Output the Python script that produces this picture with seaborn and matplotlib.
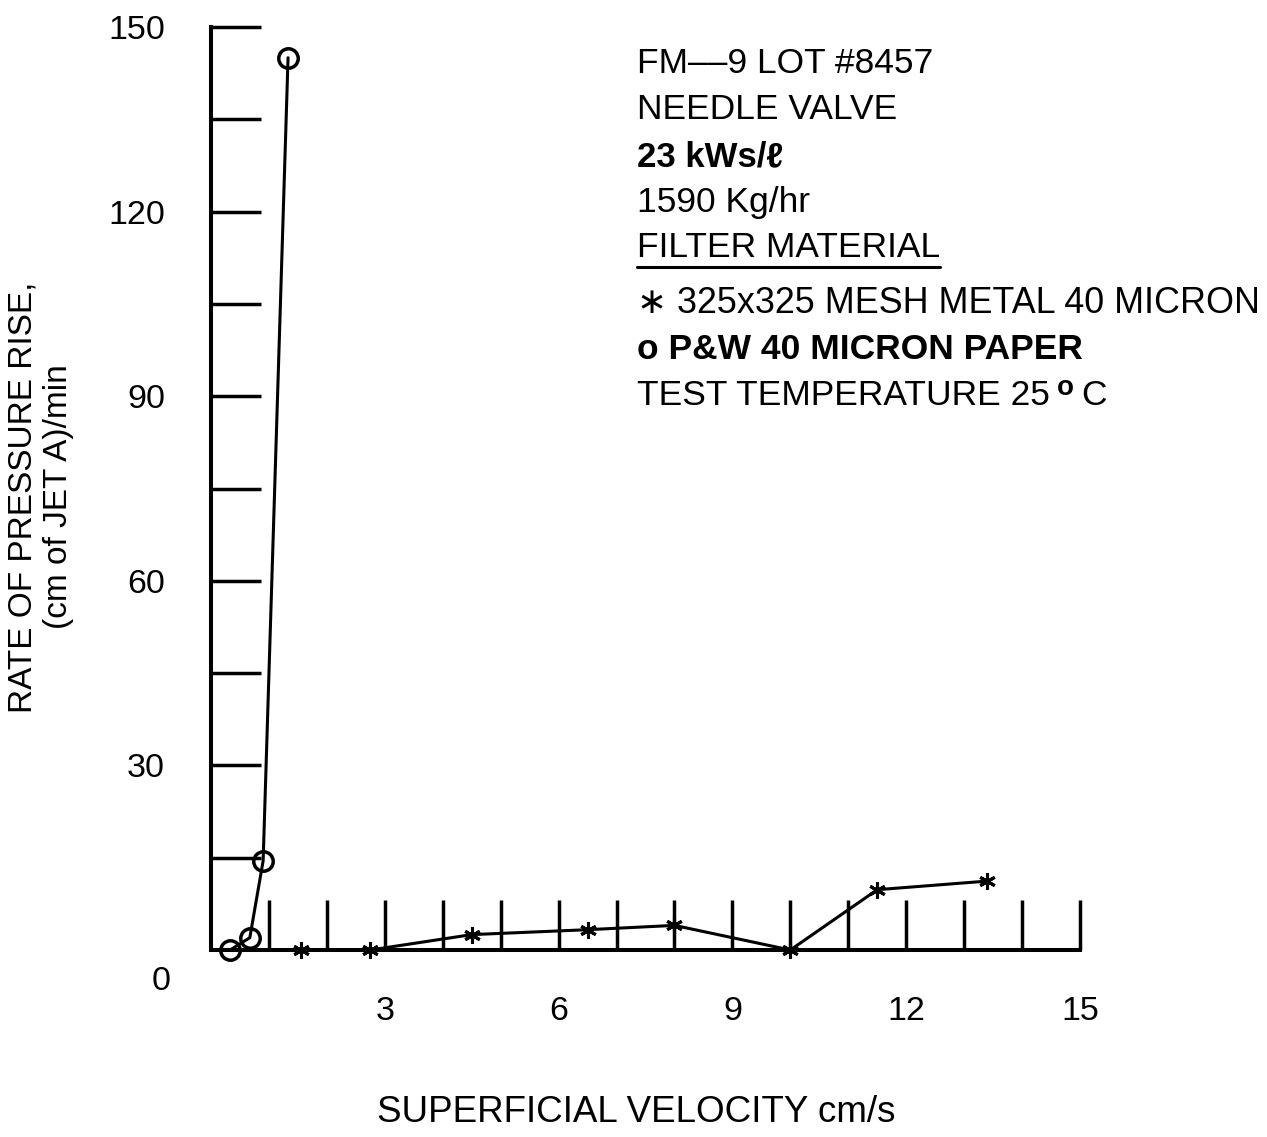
import matplotlib
matplotlib.use("Agg")
import matplotlib.pyplot as plt
from matplotlib.lines import Line2D
from matplotlib.ticker import FixedLocator, NullFormatter
import seaborn as sns
import pandas as pd

# Filter test data: superficial velocity (cm/s) vs. rate of pressure rise
paper_velocity = [0.33, 0.67, 0.90, 1.33]
paper_rate = [0.0, 2.0, 14.5, 145.0]

mesh_velocity = [1.55, 2.75, 4.5, 6.5, 8.0, 10.0, 11.5, 13.4]
mesh_rate = [0.0, 0.0, 2.5, 3.3, 4.0, 0.0, 9.8, 11.2]

x_tick_labels = [3, 6, 9, 12, 15]
y_tick_labels = [30, 60, 90, 120, 150]

info_lines = [
    "FM\u2013\u20139 LOT #8457",
    "NEEDLE VALVE",
    "23 kWs/\u2113",
    "1590 Kg/hr",
    "FILTER MATERIAL",
    "\u2217 325x325 MESH METAL 40 MICRON",
    "o P&W 40 MICRON PAPER",
    "TEST TEMPERATURE 25",
]

sns.set_style("white")
FAM = ["Liberation Sans", "DejaVu Sans"]
plt.rcParams["font.family"] = FAM
for key in ("text.color", "axes.labelcolor", "xtick.color", "ytick.color",
            "xtick.labelcolor", "ytick.labelcolor"):
    plt.rcParams[key] = "black"

W, H = 1267, 1137
fig = plt.figure(figsize=(W / 100, H / 100), dpi=100)


def fx(px):
    return px / W


def fy(py):
    return 1 - py / H


ax = fig.add_axes([fx(211), fy(950), (1080 - 211) / W, (950 - 27) / H])

paper = pd.DataFrame({"v": paper_velocity, "r": paper_rate})
mesh = pd.DataFrame({"v": mesh_velocity, "r": mesh_rate})

sns.lineplot(data=paper, x="v", y="r", ax=ax, color="black", lw=2.2,
             marker="o", markersize=14, markerfacecolor="none",
             markeredgecolor="black", markeredgewidth=2.5,
             sort=False, estimator=None, clip_on=False, zorder=4)
sns.lineplot(data=mesh, x="v", y="r", ax=ax, color="black", lw=2.2,
             marker=(6, 2, 0), markersize=12, markeredgecolor="black",
             markeredgewidth=2.2, sort=False, estimator=None,
             clip_on=False, zorder=4)

ax.set_xlim(0, 15)
ax.set_ylim(0, 150)

for side in ("top", "right"):
    ax.spines[side].set_visible(False)
for side in ("left", "bottom"):
    ax.spines[side].set_linewidth(2.9)
    ax.spines[side].set_color("black")
    ax.spines[side].set_capstyle("projecting")

# x axis: inward ticks every unit, labels every 3
ax.xaxis.set_major_locator(FixedLocator(x_tick_labels))
ax.xaxis.set_minor_locator(FixedLocator([1, 2, 4, 5, 7, 8, 10, 11, 13, 14]))
ax.set_xticklabels([str(v) for v in x_tick_labels])
# y axis: inward ticks every 15, labels every 30
ax.yaxis.set_major_locator(FixedLocator(y_tick_labels))
ax.yaxis.set_minor_locator(FixedLocator([15, 45, 75, 105, 135]))
ax.set_yticklabels([str(v) for v in y_tick_labels])
ax.xaxis.set_minor_formatter(NullFormatter())
ax.yaxis.set_minor_formatter(NullFormatter())

ax.tick_params(which="both", direction="in", length=36, width=2.5,
               color="black", labelcolor="black", labelsize=24.5, pad=33,
               bottom=True, left=True, top=False, right=False)
ax.set_xlabel("")
ax.set_ylabel("")

# lone zero label beneath the origin
fig.text(fx(161), fy(981), "0", fontsize=24.5, ha="center", va="center")

fig.text(fx(636), fy(1113), "SUPERFICIAL VELOCITY cm/s", fontsize=26.5,
         ha="center", va="center")
fig.text(fx(41), fy(497), "RATE OF PRESSURE RISE,\n(cm of JET A)/min",
         rotation=90, fontsize=24, ha="center", va="center",
         multialignment="center", linespacing=1.2)

# information block
baselines = [73, 119, 166, 212, 257, 313, 359, 405]
weights = ["normal", "normal", "bold", "normal", "normal", "normal", "bold", "normal"]
sizes = [25.5, 25.5, 25, 25.5, 25.5, 25.8, 25.5, 25.5]
last = None
for txt, b, wgt, sz in zip(info_lines, baselines, weights, sizes):
    last = fig.text(fx(637), fy(b), txt, fontsize=sz, fontweight=wgt,
                    ha="left", va="baseline", family=FAM)

fig.add_artist(Line2D([fx(637), fx(940)], [fy(267), fy(267)],
                      color="black", lw=2.2, transform=fig.transFigure))

deg = ax.annotate("o", xy=(1, 1), xycoords=last, xytext=(5, 3),
                  textcoords="offset points", fontsize=20, fontweight="bold",
                  ha="left", va="top")
ax.annotate("C", xy=(1, 0), xycoords=(deg, last), xytext=(5, 0),
            textcoords="offset points", fontsize=25.5, ha="left",
            va="bottom")

fig.savefig("out.png", dpi=100, facecolor="white")
